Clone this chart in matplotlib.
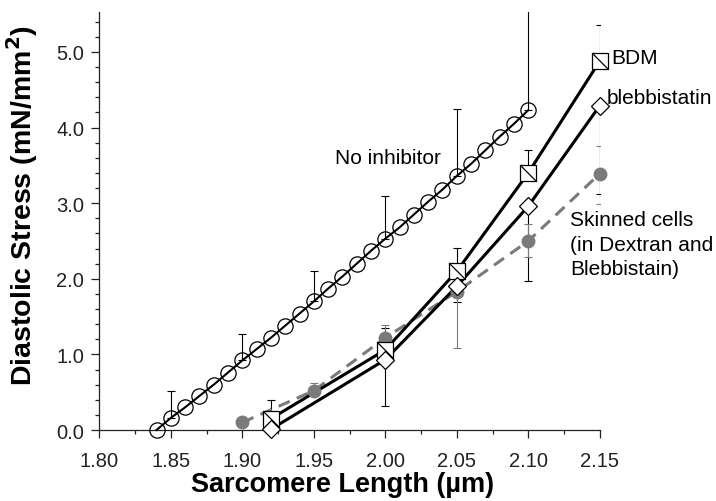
import numpy as np
import matplotlib.pyplot as plt
from matplotlib.path import Path
from matplotlib.ticker import MultipleLocator, FormatStrFormatter

plt.rcParams['font.family'] = ['Liberation Sans', 'DejaVu Sans']

# No inhibitor (open circles)
sl_none = [1.84, 1.85, 1.86, 1.87, 1.88, 1.89, 1.90, 1.91, 1.92, 1.93, 1.94,
           1.95, 1.96, 1.97, 1.98, 1.99, 2.00, 2.01, 2.02, 2.03, 2.04, 2.05,
           2.06, 2.07, 2.08, 2.09, 2.10]
stress_none = [0.00, 0.16, 0.30, 0.45, 0.60, 0.76, 0.92, 1.07, 1.22, 1.38, 1.54,
               1.70, 1.87, 2.03, 2.20, 2.37, 2.53, 2.68, 2.85, 3.02, 3.18, 3.36,
               3.52, 3.70, 3.88, 4.05, 4.23]
sl_none_err = [1.85, 1.90, 1.95, 2.00, 2.05, 2.10]
stress_none_err = [0.16, 0.92, 1.70, 2.53, 3.36, 4.23]
up_none = [0.36, 0.35, 0.40, 0.57, 0.89, 1.50]

# BDM (squares)
sl_bdm = [1.92, 2.00, 2.05, 2.10, 2.15]
stress_bdm = [0.15, 1.06, 2.10, 3.40, 4.88]
up_bdm = [0.25, 0.29, 0.31, 0.30, 0.48]

# blebbistatin (diamonds)
sl_bleb = [1.92, 2.00, 2.05, 2.10, 2.15]
stress_bleb = [0.01, 0.93, 1.90, 2.96, 4.29]
lo_bleb = [0.0, 0.61, 0.21, 0.99, 1.17]

# skinned cells (grey filled circles)
sl_sk = [1.90, 1.95, 2.00, 2.05, 2.10, 2.15]
stress_sk = [0.10, 0.52, 1.22, 1.83, 2.50, 3.39]
lo_sk = [0.0, 0.0, 0.0, 0.75, 0.21, 0.40]
up_sk = [0.0, 0.10, 0.17, 0.0, 0.22, 0.37]

grey = '#7a7a7a'
diag = Path([(-1, 1), (1, -1)])

fig = plt.figure(figsize=(7.16, 5.02), dpi=100)
ax = fig.add_axes([0.1387, 0.1414, 0.699, 0.833])

# error bars
eb = dict(fmt='none', elinewidth=0.8, capsize=3, capthick=0.8, zorder=1)
ax.errorbar(sl_none_err, stress_none_err, yerr=[np.zeros(len(up_none)), up_none], ecolor='black', **eb)
ax.errorbar(sl_bdm, stress_bdm, yerr=[np.zeros(len(up_bdm)), up_bdm], ecolor='black', **eb)
ax.errorbar(sl_bleb, stress_bleb, yerr=[lo_bleb, np.zeros(len(lo_bleb))], ecolor='black', **eb)
ax.errorbar(sl_sk, stress_sk, yerr=[lo_sk, up_sk], ecolor=grey, **eb)

# lines and markers
ax.plot(sl_sk, stress_sk, color=grey, lw=2.2, dashes=(4, 2.5), zorder=2, clip_on=False)
ax.plot(sl_sk, stress_sk, 'o', color=grey, ms=10, mec='none', zorder=5, clip_on=False)

ax.plot(sl_none, stress_none, color='black', lw=1.5, zorder=3, clip_on=False)
ax.plot(sl_none, stress_none, 'o', ms=11, mfc='none', mec='black', mew=0.9, zorder=4, clip_on=False)

ax.plot(sl_bdm, stress_bdm, color='black', lw=2.2, zorder=3, clip_on=False)
ax.plot(sl_bdm, stress_bdm, 's', ms=12, mfc='white', mec='black', mew=0.9, zorder=6, clip_on=False)
ax.plot(sl_bdm, stress_bdm, marker=diag, ls='none', ms=12, mec='black', mew=0.9, zorder=7, clip_on=False)

ax.plot(sl_bleb, stress_bleb, color='black', lw=2.2, zorder=3, clip_on=False)
ax.plot(sl_bleb, stress_bleb, 'D', ms=9, mfc='white', mec='black', mew=0.9, zorder=6, clip_on=False)

# labels
ax.text(2.039, 3.6, 'No inhibitor', fontsize=15, ha='right', va='center')
ax.text(2.158, 4.92, 'BDM', fontsize=15, ha='left', va='center')
ax.text(2.155, 4.4, 'blebbistatin', fontsize=15, ha='left', va='center')
ax.text(2.129, 2.91, 'Skinned cells\n(in Dextran and\nBlebbistain)', fontsize=15,
        ha='left', va='top', linespacing=1.38)

ax.set_xlim(1.80, 2.15)
ax.set_ylim(0.0, 5.53)
ax.xaxis.set_major_locator(MultipleLocator(0.05))
ax.xaxis.set_minor_locator(MultipleLocator(0.025))
ax.yaxis.set_major_locator(MultipleLocator(1.0))
ax.yaxis.set_minor_locator(MultipleLocator(0.2))
ax.xaxis.set_major_formatter(FormatStrFormatter('%.2f'))
ax.yaxis.set_major_formatter(FormatStrFormatter('%.1f'))
ax.tick_params(which='major', direction='out', length=5.5, width=0.9, labelsize=14.5, colors='#222222')
ax.tick_params(which='minor', direction='out', length=2.8, width=0.9, colors='#222222')
ax.tick_params(axis='x', which='major', pad=9.5)
ax.tick_params(axis='y', which='major', pad=5.5)
for s in ['top', 'right']:
    ax.spines[s].set_visible(False)
for s in ['left', 'bottom']:
    ax.spines[s].set_linewidth(0.9)
    ax.spines[s].set_color('#222222')

ax.set_xlabel('Sarcomere Length (µm)', fontsize=19.5, fontweight='bold')
ax.set_ylabel('Diastolic Stress (mN/mm$^{\\mathbf{2}}$)', fontsize=20.5, fontweight='bold')
ax.xaxis.set_label_coords(0.486, -0.098)
ax.yaxis.set_label_coords(-0.118, 0.54)

fig.savefig('out.png', dpi=100)
